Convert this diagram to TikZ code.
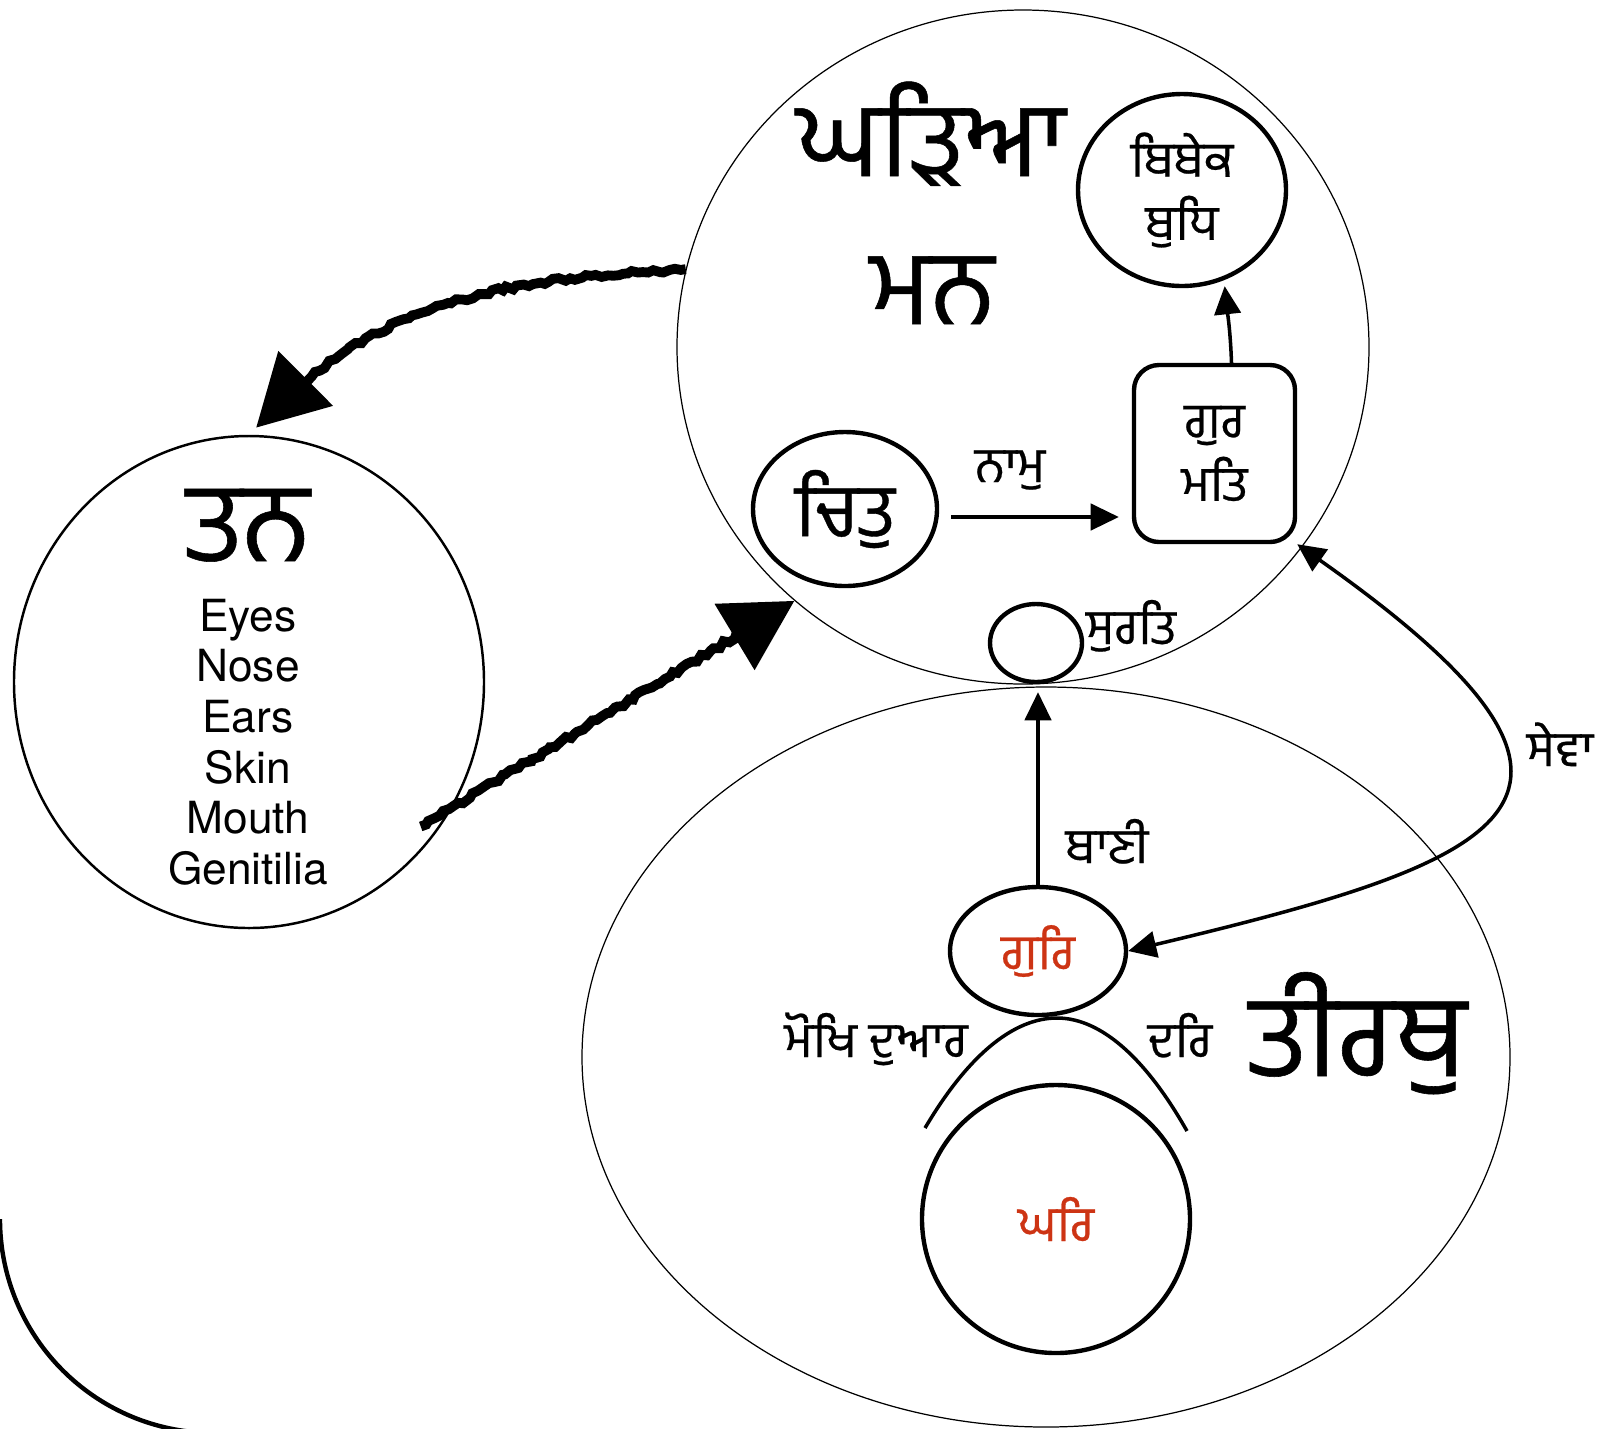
\documentclass[tikz,border=0pt]{standalone}
\usepackage{fontspec}
\setsansfont{TeX Gyre Heros}
\newfontfamily\gurfont[Script=Gurmukhi,FakeBold=0.5]{Hind Jalandhar}
\usetikzlibrary{arrows.meta,shapes.geometric,decorations.pathmorphing}
\definecolor{gurred}{RGB}{205,52,20}

\begin{document}
\begin{tikzpicture}[
  thinring/.style={ellipse,draw,line width=0.35pt,inner sep=0pt},
  ring/.style={ellipse,draw,line width=1.25pt,inner sep=0pt,align=center},
  gtitle/.style={font=\gurfont\fontsize{30}{36}\selectfont,anchor=base,inner sep=0pt},
  gtext/.style={font=\gurfont\fontsize{14}{18}\selectfont},
  glabel/.style={gtext,anchor=base,inner sep=0pt},
  link/.style={line width=1pt,-{Triangle[length=8pt,width=7.5pt]}},
  rough/.style={line width=2.8pt,decorate,decoration={random steps,segment length=1.5pt,amplitude=0.6pt,post length=6mm},-{Triangle[length=7mm,width=7.5mm]}}
]
\pgfmathsetseed{7}
\useasboundingbox (0,0) rectangle (16.02,-14.28);

\node[thinring,minimum width=6.92cm,minimum height=6.74cm] (man) at (10.23,-3.47) {};
\node[thinring,minimum width=9.28cm,minimum height=7.40cm] (tirath) at (10.46,-10.57) {};
\node[ellipse,draw,line width=0.7pt,inner sep=0pt,minimum width=4.70cm,minimum height=4.92cm] (tan) at (2.49,-6.82) {};

\node[ring,gtext,minimum width=2.08cm,minimum height=1.92cm] (bibek) at (11.82,-1.90) {ਬਿਬੇਕ\\ਬੁਧਿ};
\node[draw,rounded corners=0.25cm,line width=1.25pt,align=center,gtext,minimum width=1.61cm,minimum height=1.77cm] (gurmat) at (12.145,-4.535) {ਗੁਰ\\ਮਤਿ};
\node[ring,font=\gurfont\fontsize{21}{24}\selectfont,minimum width=1.84cm,minimum height=1.54cm] (chit) at (8.45,-5.09) {ਚਿਤੁ};
\node[ring,minimum width=0.92cm,minimum height=0.78cm] (surat) at (10.36,-6.43) {};
\node[ring,gtext,text=gurred,minimum width=1.76cm,minimum height=1.28cm] (gur) at (10.38,-9.51) {ਗੁਰਿ};
\node[ring,gtext,text=gurred,minimum width=2.68cm,minimum height=2.68cm] (ghar) at (10.56,-12.19) {ਘਰਿ};

\node[gtitle] (ghariatxt) at (9.31,-1.76) {ਘੜਿਆ};
\node[gtitle] (mantxt) at (9.32,-3.24) {ਮਨ};
\node[gtitle,font=\gurfont\fontsize{32}{36}\selectfont] (tantxt) at (2.48,-5.61) {ਤਨ};
\node[gtitle,font=\gurfont\fontsize{33}{36}\selectfont] (tirathtxt) at (13.58,-10.76) {ਤੀਰਥੁ};
\node[font=\sffamily\fontsize{12.6}{14.4}\selectfont,align=center,inner sep=0pt] (organs) at (2.48,-7.42) {Eyes\\Nose\\Ears\\Skin\\Mouth\\Genitilia};

\node[glabel] (naamtxt) at (10.10,-4.82) {ਨਾਮੁ};
\node[glabel] (surattxt) at (11.31,-6.44) {ਸੁਰਤਿ};
\node[glabel] (banitxt) at (11.07,-8.63) {ਬਾਣੀ};
\node[glabel] (sewatxt) at (15.60,-7.66) {ਸੇਵਾ};
\node[glabel] (mokhtxt) at (8.76,-10.57) {ਮੋਖਿ ਦੁਆਰ};
\node[glabel] (dartxt) at (11.80,-10.57) {ਦਰਿ};

\draw[line width=1pt] (9.25,-11.28) parabola bend (10.57,-10.18) (11.87,-11.31);
\draw[line width=1.25pt] (2.14,-12.19) ++(180:2.14) arc[start angle=180,end angle=265,radius=2.14];

\draw[link,shorten <=0.12cm,shorten >=0.13cm] ([yshift=-0.08cm]chit.east) -- ([yshift=-0.08cm]chit.east -| gurmat.west);
\draw[link,shorten >=0.06cm] ([xshift=0.17cm]gurmat.north) to[out=92,in=-84] (bibek.-65);
\draw[link,shorten >=0.08cm] (gur.north) -- (gur.north |- surat.south);
\draw[link,{Triangle[length=8pt,width=7.5pt]}-{Triangle[length=8pt,width=7.5pt]}] (gur.east) .. controls (15.1,-8.6) and (16.6,-8.0) .. (gurmat.south east);

\draw[rough,shorten >=0.1cm] (man.167) to[out=183,in=48] (tan.north);
\draw[rough] ([xshift=-0.2cm]tan.-37) -- (man.-132);
\end{tikzpicture}
\end{document}
